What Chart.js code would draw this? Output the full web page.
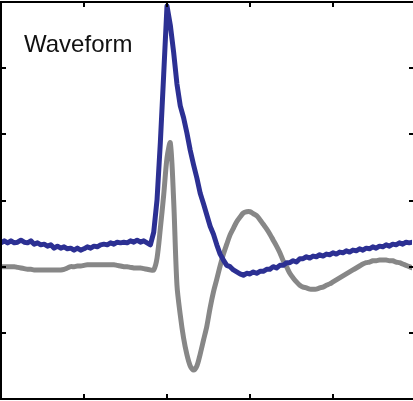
<!DOCTYPE html>
<html>
<head>
<meta charset="utf-8">
<title>Waveform</title>
<script src="https://cdn.jsdelivr.net/npm/chart.js@4.4.1/dist/chart.umd.min.js"></script>
<style>
    html, body { margin: 0; padding: 0; background: #ffffff; }
    #wrap { width: 413px; height: 401px; position: relative; }
</style>
</head>
<body>
<div id="wrap"><canvas id="waveChart"></canvas></div>
<script>
// Sampling: one sample every 0.04 ms
const sampleStep = 0.04;

// Unit response (blue), mV
const unitTrace = [
    -0.64, -0.61, -0.64, -0.61, -0.64, -0.63, -0.60, -0.63, -0.64, -0.61,
    -0.66, -0.64, -0.67, -0.66, -0.69, -0.67, -0.72, -0.69, -0.72, -0.70,
    -0.73, -0.72, -0.75, -0.72, -0.75, -0.73, -0.70, -0.72, -0.69, -0.70,
    -0.67, -0.66, -0.67, -0.64, -0.66, -0.63, -0.64, -0.63, -0.64, -0.61,
    -0.63, -0.60, -0.63, -0.61, -0.64, -0.67, -0.48, 0.01, 0.88, 1.90,
    2.94, 2.65, 2.24, 1.76, 1.43, 1.25, 1.02, 0.76, 0.54, 0.34,
    0.11, -0.05, -0.22, -0.39, -0.51, -0.67, -0.81, -0.90, -0.98, -1.00,
    -1.05, -1.08, -1.11, -1.13, -1.10, -1.11, -1.08, -1.10, -1.07, -1.07,
    -1.04, -1.04, -1.00, -1.02, -0.98, -0.98, -0.94, -0.94, -0.91, -0.93,
    -0.88, -0.88, -0.85, -0.87, -0.84, -0.85, -0.82, -0.84, -0.81, -0.82,
    -0.79, -0.81, -0.78, -0.79, -0.76, -0.78, -0.75, -0.76, -0.73, -0.75,
    -0.72, -0.73, -0.70, -0.72, -0.69, -0.70, -0.67, -0.69, -0.66, -0.67,
    -0.64, -0.66, -0.63, -0.64, -0.63
];

// Reference response (gray), mV
const refTrace = [
    -1.00, -1.00, -1.00, -1.00, -1.00, -1.01, -1.02, -1.03, -1.04, -1.04,
    -1.05, -1.05, -1.05, -1.05, -1.05, -1.05, -1.05, -1.05, -1.05, -1.04,
    -1.02, -1.00, -1.00, -0.99, -0.99, -0.98, -0.97, -0.97, -0.97, -0.97,
    -0.97, -0.97, -0.97, -0.97, -0.97, -0.98, -0.99, -1.00, -1.00, -1.01,
    -1.02, -1.02, -1.02, -1.03, -1.04, -1.05, -1.05, -0.87, -0.42, 0.08,
    0.64, 0.87, 0.01, -1.28, -1.73, -2.08, -2.33, -2.50, -2.56, -2.50,
    -2.32, -2.11, -1.90, -1.62, -1.38, -1.19, -0.99, -0.81, -0.66, -0.52,
    -0.42, -0.32, -0.25, -0.19, -0.17, -0.17, -0.20, -0.23, -0.29, -0.36,
    -0.43, -0.51, -0.60, -0.69, -0.79, -0.91, -1.00, -1.10, -1.17, -1.23,
    -1.28, -1.31, -1.32, -1.34, -1.34, -1.34, -1.32, -1.31, -1.28, -1.26,
    -1.23, -1.20, -1.17, -1.14, -1.11, -1.08, -1.05, -1.02, -0.99, -0.96,
    -0.94, -0.93, -0.91, -0.91, -0.90, -0.90, -0.90, -0.91, -0.91, -0.93,
    -0.94, -0.96, -0.98, -1.00, -1.02
];

// Axis ranges and tick positions
const xRange = [0, 4.952];
const yRange = [-3, 3];
const xTicks = [1, 2, 3, 4];
const yTicks = [-2, -1, 0, 1, 2];
const chartTitle = 'Waveform';

function toPoints(values) {
    return values.map((v, i) => ({ x: i * sampleStep, y: v }));
}

// Box frame with inward ticks, drawn from the chart scales
const frameBox = {
    id: 'frameBox',
    afterDraw(chart) {
        const ctx = chart.ctx;
        const area = chart.chartArea;
        const xs = chart.scales.x;
        const ys = chart.scales.y;
        const tickLen = 5;

        ctx.save();
        ctx.strokeStyle = '#000000';
        ctx.lineWidth = 2;
        ctx.beginPath();
        ctx.moveTo(area.right + 4, area.top);
        ctx.lineTo(area.left, area.top);
        ctx.lineTo(area.left, area.bottom);
        ctx.lineTo(area.right + 4, area.bottom);
        ctx.stroke();

        ctx.beginPath();
        xTicks.forEach(t => {
            const px = Math.round(xs.getPixelForValue(t));
            ctx.moveTo(px, area.bottom);
            ctx.lineTo(px, area.bottom - tickLen);
            ctx.moveTo(px, area.top);
            ctx.lineTo(px, area.top + tickLen);
        });
        yTicks.forEach(t => {
            const py = Math.round(ys.getPixelForValue(t));
            ctx.moveTo(area.left, py);
            ctx.lineTo(area.left + tickLen, py);
            ctx.moveTo(area.right + 1, py);
            ctx.lineTo(area.right + 1 - tickLen + 1, py);
        });
        ctx.stroke();

        // title inside the plot
        ctx.fillStyle = '#111111';
        ctx.font = '24px "Liberation Sans", Arial, sans-serif';
        ctx.textBaseline = 'alphabetic';
        ctx.fillText(chartTitle, area.left + 23, area.top + 50);
        ctx.restore();
    }
};

function initializeChart() {
    const ctx = document.getElementById('waveChart');

    new Chart(ctx, {
        type: 'line',
        data: {
            datasets: [
                {
                    label: 'Unit',
                    data: toPoints(unitTrace),
                    borderColor: '#2c3093',
                    borderWidth: 5,
                    tension: 0,
                    pointRadius: 0,
                    borderJoinStyle: 'round',
                    borderCapStyle: 'round',
                    order: 0
                },
                {
                    label: 'Reference',
                    data: toPoints(refTrace),
                    borderColor: '#878787',
                    borderWidth: 5,
                    tension: 0.3,
                    pointRadius: 0,
                    borderJoinStyle: 'round',
                    borderCapStyle: 'round',
                    order: 1
                }
            ]
        },
        options: {
            responsive: true,
            maintainAspectRatio: false,
            animation: false,
            layout: {
                padding: { left: 1, right: 1, top: 2, bottom: 2 }
            },
            plugins: {
                legend: { display: false },
                tooltip: { enabled: false },
                title: { display: false }
            },
            scales: {
                x: {
                    type: 'linear',
                    min: xRange[0],
                    max: xRange[1],
                    display: false
                },
                y: {
                    type: 'linear',
                    min: yRange[0],
                    max: yRange[1],
                    display: false
                }
            }
        },
        plugins: [frameBox]
    });
}

initializeChart();
</script>
</body>
</html>
